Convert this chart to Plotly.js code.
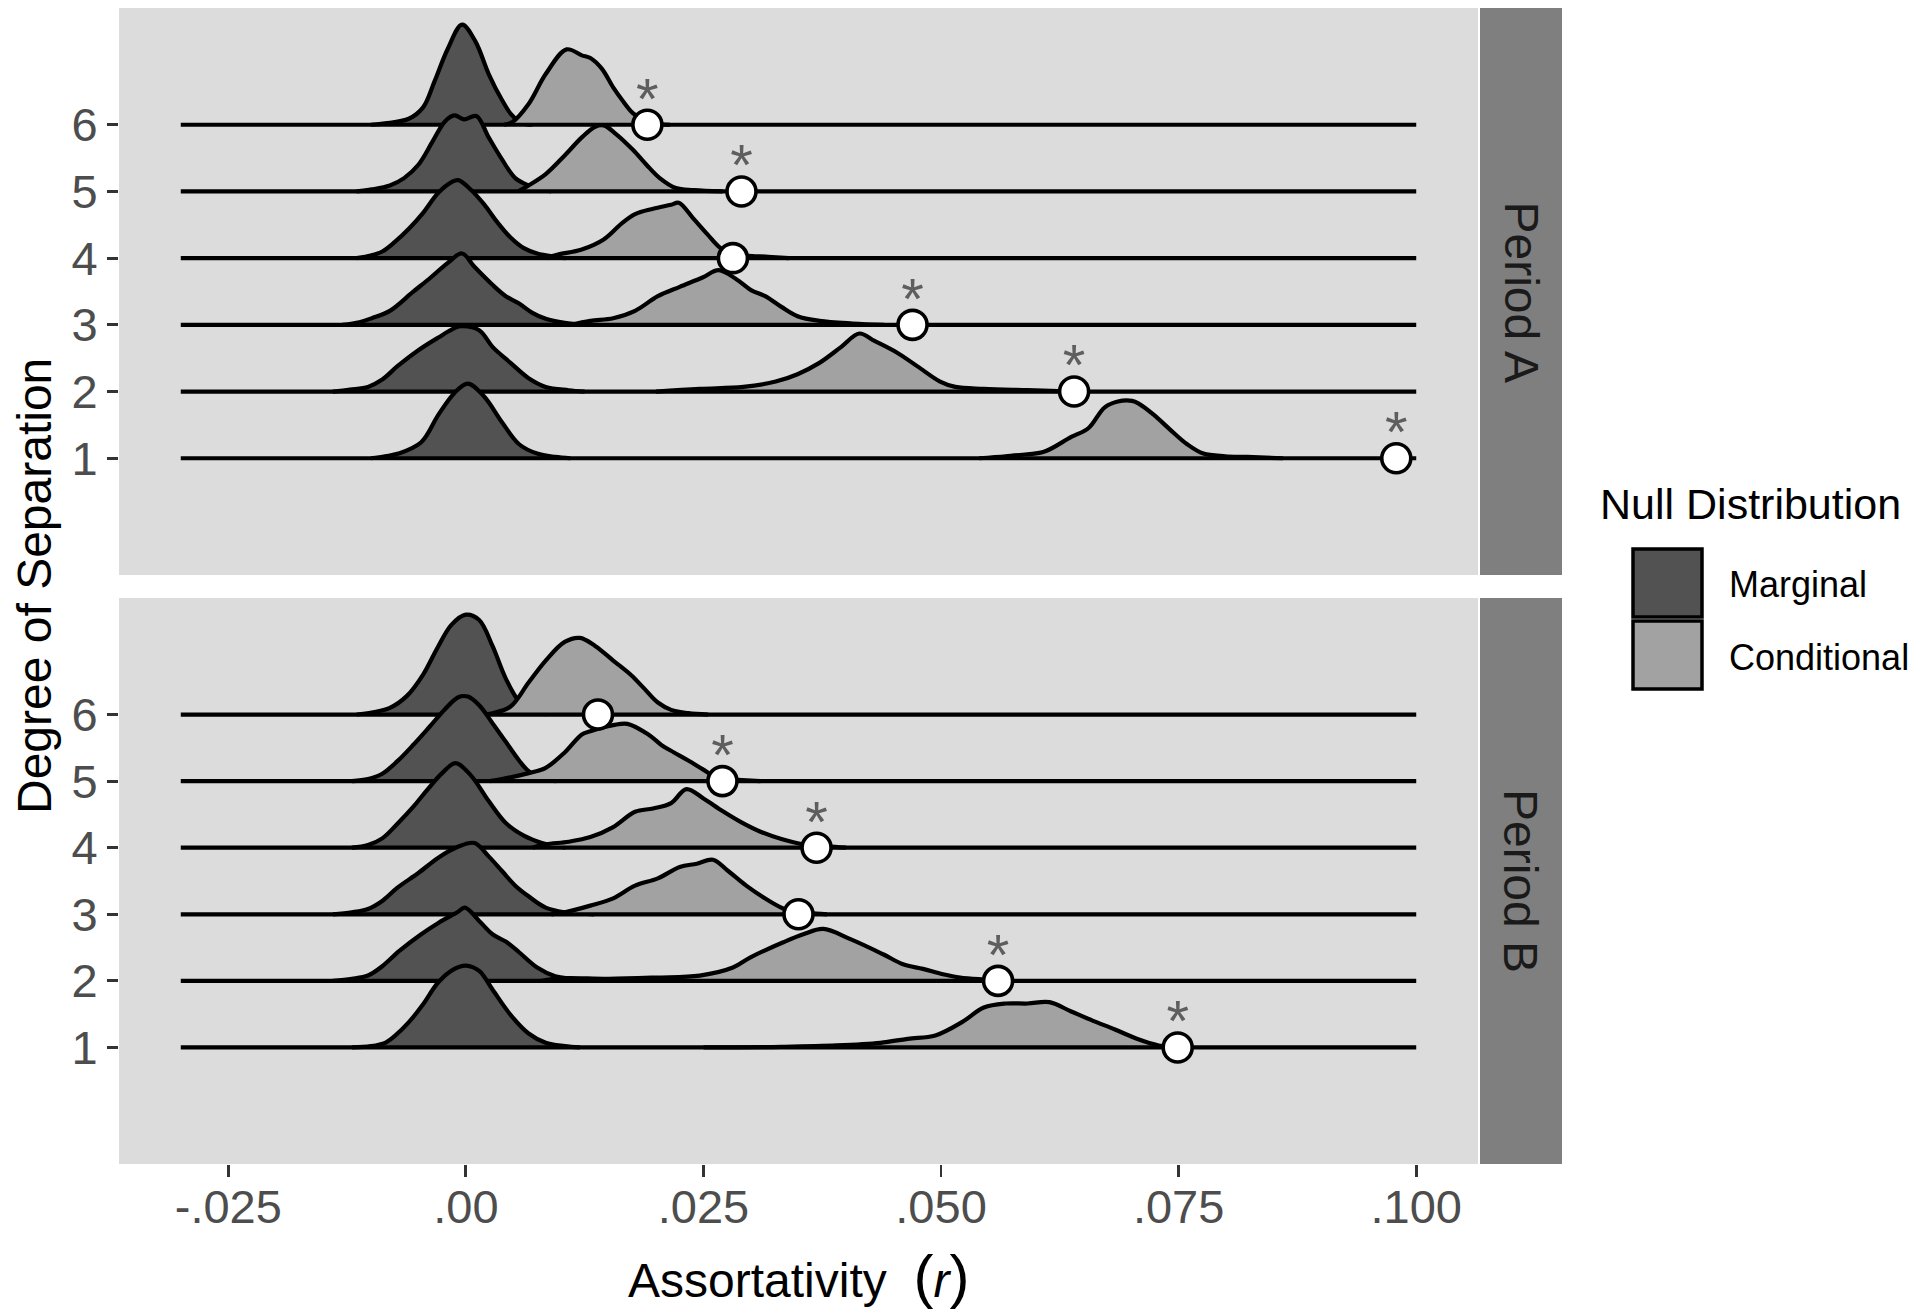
<!DOCTYPE html>
<html>
<head>
<meta charset="utf-8">
<script src="https://cdn.plot.ly/plotly-3.0.1.min.js"></script>
<style>
  html, body { margin: 0; padding: 0; background: #ffffff; }
  #chart { width: 1920px; height: 1315px; }
</style>
</head>
<body>
<div id="chart"></div>
<script>
// ---------------- DATA ----------------
const degrees = [1, 2, 3, 4, 5, 6];
const degreeLabels = ['1', '2', '3', '4', '5', '6'];
const periods = ['Period A', 'Period B'];
const nullTypes = ['Marginal', 'Conditional'];
const xTickVals = [-0.025, 0, 0.025, 0.05, 0.075, 0.1];
const xTickText = ['-.025', '.00', '.025', '.050', '.075', '.100'];
const densityRange = [-0.03, 0.10];

// density curves: [assortativity r, ridge height in row units]
// Period A
const A_marg_1 = [[-0.0100,0],[-0.0085,0.03],[-0.0071,0.07],[-0.0047,0.24],[-0.0029,0.65],[-0.0012,0.98],[0.0002,1.12],[0.0019,0.93],[0.0038,0.54],[0.0056,0.21],[0.0075,0.07],[0.0094,0.02],[0.0110,0]];
const A_cond_1 = [[0.0540,0],[0.0568,0.03],[0.0591,0.06],[0.0609,0.10],[0.0637,0.32],[0.0655,0.45],[0.0672,0.76],[0.0686,0.85],[0.0701,0.86],[0.0708,0.82],[0.0724,0.65],[0.0741,0.43],[0.0759,0.21],[0.0776,0.07],[0.0799,0.03],[0.0822,0.02],[0.0860,0]];
const A_marg_2 = [[-0.0140,0],[-0.0122,0.03],[-0.0103,0.07],[-0.0088,0.18],[-0.0072,0.38],[-0.0050,0.62],[-0.0029,0.81],[-0.0012,0.95],[-0.0005,0.98],[0.0014,0.92],[0.0028,0.67],[0.0047,0.43],[0.0066,0.20],[0.0084,0.07],[0.0108,0.02],[0.0125,0]];
const A_cond_2 = [[0.0200,0],[0.0246,0.04],[0.0292,0.07],[0.0326,0.15],[0.0349,0.26],[0.0372,0.43],[0.0395,0.67],[0.0414,0.87],[0.0430,0.76],[0.0453,0.59],[0.0476,0.37],[0.0499,0.15],[0.0515,0.07],[0.0545,0.04],[0.0591,0.02],[0.0640,0]];
const A_marg_3 = [[-0.0130,0],[-0.0112,0.04],[-0.0099,0.10],[-0.0080,0.21],[-0.0056,0.49],[-0.0037,0.71],[-0.0019,0.93],[-0.0004,1.07],[0.0009,0.87],[0.0028,0.60],[0.0042,0.43],[0.0056,0.32],[0.0070,0.18],[0.0084,0.09],[0.0104,0.03],[0.0125,0]];
const A_cond_3 = [[0.0110,0],[0.0131,0.06],[0.0155,0.10],[0.0178,0.21],[0.0202,0.43],[0.0225,0.57],[0.0249,0.71],[0.0266,0.82],[0.0285,0.68],[0.0300,0.52],[0.0315,0.43],[0.0332,0.27],[0.0349,0.13],[0.0372,0.06],[0.0407,0.02],[0.0440,0]];
const A_marg_4 = [[-0.0115,0],[-0.0100,0.04],[-0.0088,0.10],[-0.0075,0.24],[-0.0060,0.44],[-0.0045,0.68],[-0.0029,0.98],[-0.0015,1.14],[-0.0008,1.17],[0.0005,1.03],[0.0019,0.81],[0.0033,0.54],[0.0047,0.31],[0.0061,0.15],[0.0075,0.07],[0.0094,0.02],[0.0105,0]];
const A_cond_4 = [[0.0085,0],[0.0096,0.05],[0.0122,0.13],[0.0145,0.28],[0.0164,0.52],[0.0178,0.66],[0.0197,0.74],[0.0216,0.80],[0.0224,0.83],[0.0239,0.60],[0.0254,0.36],[0.0268,0.15],[0.0280,0.07],[0.0295,0.04],[0.0318,0.02],[0.0340,0]];
const A_marg_5 = [[-0.0115,0],[-0.0099,0.03],[-0.0080,0.09],[-0.0065,0.20],[-0.0050,0.40],[-0.0035,0.75],[-0.0022,1.05],[-0.0012,1.14],[-0.0002,1.08],[0.0011,1.13],[0.0024,0.81],[0.0038,0.48],[0.0052,0.20],[0.0066,0.09],[0.0077,0.04],[0.0090,0]];
const A_cond_5 = [[0.0055,0],[0.0066,0.09],[0.0084,0.26],[0.0104,0.54],[0.0122,0.81],[0.0136,0.97],[0.0145,0.99],[0.0158,0.86],[0.0176,0.62],[0.0190,0.40],[0.0204,0.20],[0.0221,0.05],[0.0240,0.02],[0.0270,0]];
const A_marg_6 = [[-0.0100,0],[-0.0085,0.02],[-0.0060,0.09],[-0.0045,0.26],[-0.0033,0.65],[-0.0019,1.14],[-0.0004,1.50],[0.0010,1.25],[0.0024,0.76],[0.0038,0.37],[0.0048,0.15],[0.0058,0.03],[0.0070,0]];
const A_cond_6 = [[0.0040,0],[0.0049,0.04],[0.0066,0.31],[0.0084,0.76],[0.0106,1.13],[0.0122,1.04],[0.0131,1.00],[0.0143,0.84],[0.0155,0.56],[0.0165,0.36],[0.0176,0.17],[0.0186,0.08],[0.0196,0.02],[0.0215,0]];
// Period B
const B_marg_1 = [[-0.0120,0],[-0.0100,0.02],[-0.0085,0.07],[-0.0075,0.17],[-0.0060,0.38],[-0.0045,0.65],[-0.0029,0.98],[-0.0012,1.18],[0.0000,1.23],[0.0014,1.15],[0.0028,0.87],[0.0047,0.49],[0.0066,0.21],[0.0084,0.07],[0.0104,0.02],[0.0120,0]];
const B_cond_1 = [[0.0250,0],[0.0332,0.01],[0.0390,0.03],[0.0436,0.07],[0.0465,0.13],[0.0494,0.18],[0.0522,0.38],[0.0545,0.60],[0.0568,0.66],[0.0591,0.66],[0.0614,0.68],[0.0637,0.54],[0.0660,0.40],[0.0683,0.27],[0.0706,0.13],[0.0729,0.03],[0.0750,0]];
const B_marg_2 = [[-0.0140,0],[-0.0120,0.03],[-0.0103,0.08],[-0.0088,0.22],[-0.0070,0.45],[-0.0047,0.70],[-0.0029,0.87],[-0.0009,1.03],[-0.0001,1.10],[0.0014,0.90],[0.0028,0.70],[0.0042,0.59],[0.0056,0.43],[0.0075,0.20],[0.0094,0.07],[0.0113,0.03],[0.0130,0]];
const B_cond_2 = [[0.0080,0],[0.0100,0.04],[0.0150,0.03],[0.0200,0.05],[0.0246,0.08],[0.0281,0.20],[0.0299,0.35],[0.0334,0.58],[0.0355,0.70],[0.0376,0.78],[0.0404,0.63],[0.0439,0.40],[0.0460,0.25],[0.0481,0.18],[0.0502,0.10],[0.0520,0.05],[0.0545,0.02],[0.0570,0]];
const B_marg_3 = [[-0.0140,0],[-0.0120,0.03],[-0.0103,0.08],[-0.0088,0.20],[-0.0072,0.40],[-0.0050,0.62],[-0.0029,0.85],[-0.0009,1.01],[0.0009,1.07],[0.0024,0.87],[0.0038,0.65],[0.0052,0.43],[0.0066,0.27],[0.0084,0.10],[0.0104,0.03],[0.0122,0.01],[0.0135,0]];
const B_cond_3 = [[0.0090,0],[0.0104,0.03],[0.0131,0.13],[0.0155,0.24],[0.0178,0.43],[0.0202,0.54],[0.0225,0.71],[0.0243,0.76],[0.0260,0.82],[0.0276,0.65],[0.0295,0.43],[0.0318,0.21],[0.0337,0.07],[0.0360,0.02],[0.0380,0]];
const B_marg_4 = [[-0.0120,0],[-0.0103,0.04],[-0.0088,0.14],[-0.0072,0.36],[-0.0055,0.62],[-0.0040,0.88],[-0.0025,1.12],[-0.0011,1.27],[0.0005,1.09],[0.0024,0.70],[0.0042,0.37],[0.0061,0.18],[0.0080,0.07],[0.0089,0.04],[0.0105,0]];
const B_cond_4 = [[0.0070,0],[0.0084,0.05],[0.0108,0.09],[0.0131,0.16],[0.0155,0.31],[0.0178,0.54],[0.0197,0.59],[0.0216,0.67],[0.0232,0.88],[0.0250,0.74],[0.0270,0.55],[0.0290,0.38],[0.0310,0.24],[0.0332,0.13],[0.0355,0.05],[0.0380,0.02],[0.0400,0]];
const B_marg_5 = [[-0.0120,0],[-0.0103,0.03],[-0.0088,0.11],[-0.0072,0.30],[-0.0055,0.55],[-0.0038,0.82],[-0.0022,1.08],[-0.0008,1.26],[0.0002,1.27],[0.0014,1.14],[0.0028,0.87],[0.0042,0.59],[0.0056,0.31],[0.0066,0.15],[0.0080,0.04],[0.0095,0]];
const B_cond_5 = [[0.0025,0],[0.0038,0.03],[0.0066,0.12],[0.0084,0.20],[0.0104,0.43],[0.0122,0.70],[0.0131,0.75],[0.0155,0.84],[0.0170,0.86],[0.0192,0.70],[0.0206,0.54],[0.0219,0.43],[0.0234,0.31],[0.0249,0.18],[0.0266,0.04],[0.0286,0.02],[0.0310,0]];
const B_marg_6 = [[-0.0115,0],[-0.0099,0.03],[-0.0080,0.10],[-0.0062,0.28],[-0.0045,0.60],[-0.0030,1.00],[-0.0015,1.35],[0.0000,1.50],[0.0014,1.42],[0.0028,1.03],[0.0042,0.54],[0.0056,0.20],[0.0070,0.07],[0.0085,0]];
const B_cond_6 = [[0.0015,0],[0.0028,0.02],[0.0047,0.12],[0.0066,0.48],[0.0084,0.81],[0.0104,1.09],[0.0120,1.15],[0.0136,1.03],[0.0155,0.81],[0.0174,0.59],[0.0187,0.40],[0.0202,0.18],[0.0216,0.07],[0.0234,0.02],[0.0255,0]];

// observed assortativity per degree 1..6, with significance marks
const observedA = [0.0979, 0.0640, 0.0470, 0.0281, 0.0290, 0.0191];
const starsA    = ['*', '*', '*', '', '*', '*'];
const observedB = [0.0749, 0.0560, 0.0350, 0.0369, 0.0270, 0.0139];
const starsB    = ['*', '*', '', '*', '*', ''];

// ---------------- STYLE ----------------
const W = 1920, H = 1315;
const FONT = 'Liberation Sans, Arial, Helvetica, sans-serif';
const fillColors = {Marginal: '#525252', Conditional: '#a2a2a2'};
const panelBg = '#dcdcdc';
const stripColor = '#7f7f7f';
const px = v => v / W;
const py = v => 1 - v / H;

const plotX = [119, 1478];
const panelY = [[8, 575], [598, 1164]];   // top, bottom (pixels)
const stripX = [1480, 1562];

const panels = [
  {name: periods[0], xa: 'x', ya: 'y', marg: [A_marg_1, A_marg_2, A_marg_3, A_marg_4, A_marg_5, A_marg_6],
   cond: [A_cond_1, A_cond_2, A_cond_3, A_cond_4, A_cond_5, A_cond_6], obs: observedA, stars: starsA},
  {name: periods[1], xa: 'x2', ya: 'y2', marg: [B_marg_1, B_marg_2, B_marg_3, B_marg_4, B_marg_5, B_marg_6],
   cond: [B_cond_1, B_cond_2, B_cond_3, B_cond_4, B_cond_5, B_cond_6], obs: observedB, stars: starsB}
];

const LW = 4.2;
const traces = [];
function ridge(pts, row, color, xa, ya) {
  return {
    type: 'scatter', mode: 'lines',
    x: pts.map(p => p[0]), y: pts.map(p => row + p[1]),
    fill: 'toself', fillcolor: color,
    line: {color: '#000000', width: LW, shape: 'spline', smoothing: 1.0},
    xaxis: xa, yaxis: ya, hoverinfo: 'skip', showlegend: false
  };
}

panels.forEach(p => {
  // draw from the top row down so lower ridges overlap upper ones
  for (let i = degrees.length - 1; i >= 0; i--) {
    const row = degrees[i];
    traces.push(ridge(p.marg[i], row, fillColors.Marginal, p.xa, p.ya));
    traces.push(ridge(p.cond[i], row, fillColors.Conditional, p.xa, p.ya));
    traces.push({
      type: 'scatter', mode: 'lines', x: densityRange, y: [row, row],
      line: {color: '#000000', width: LW}, xaxis: p.xa, yaxis: p.ya,
      hoverinfo: 'skip', showlegend: false
    });
  }
  traces.push({
    type: 'scatter', mode: 'markers', x: p.obs, y: degrees,
    marker: {size: 29, color: '#ffffff', line: {color: '#000000', width: 3.6}},
    xaxis: p.xa, yaxis: p.ya, hoverinfo: 'skip', showlegend: false
  });
  traces.push({
    type: 'scatter', mode: 'text', x: p.obs, y: degrees.map(d => d + 0.31),
    text: p.stars, textposition: 'middle center',
    textfont: {family: FONT, size: 58, color: '#5e5e5e'},
    xaxis: p.xa, yaxis: p.ya, hoverinfo: 'skip', showlegend: false
  });
});

const xRange = [-0.0365, 0.1065];
const yRange = [-0.75, 7.75];
const yAxisCommon = {
  range: yRange, tickmode: 'array', tickvals: degrees, ticktext: degreeLabels,
  ticks: 'outside', ticklen: 11, tickwidth: 2.8, tickcolor: '#333333',
  tickfont: {family: FONT, size: 47, color: '#4d4d4d'},
  showgrid: false, zeroline: false, showline: false, fixedrange: true
};

const shapes = [];
const annotations = [];
panels.forEach((p, k) => {
  shapes.push({type: 'rect', xref: 'paper', yref: 'paper',
    x0: px(stripX[0]), x1: px(stripX[1]), y0: py(panelY[k][1]), y1: py(panelY[k][0]),
    fillcolor: stripColor, line: {width: 0}, layer: 'below'});
  annotations.push({xref: 'paper', yref: 'paper', x: px((stripX[0] + stripX[1]) / 2),
    y: py((panelY[k][0] + panelY[k][1]) / 2), text: p.name, showarrow: false, textangle: 90,
    xanchor: 'center', yanchor: 'middle', font: {family: FONT, size: 48, color: '#1a1a1a'}});
});

// axis titles
annotations.push({xref: 'paper', yref: 'paper', x: px(34), y: py((panelY[0][0] + panelY[1][1]) / 2),
  text: 'Degree of Separation', showarrow: false, textangle: -90, xanchor: 'center', yanchor: 'middle',
  font: {family: FONT, size: 48, color: '#000000'}});
annotations.push({xref: 'paper', yref: 'paper', x: px((plotX[0] + plotX[1]) / 2), y: py(1276),
  text: "Assortativity  <span style='font-size:60px'>(</span><i>r</i><span style='font-size:60px'>)</span>",
  showarrow: false, xanchor: 'center', yanchor: 'middle',
  font: {family: FONT, size: 48, color: '#000000'}});

// legend (drawn manually to match the ggplot key boxes)
annotations.push({xref: 'paper', yref: 'paper', x: px(1598), y: py(504), text: 'Null Distribution',
  showarrow: false, xanchor: 'left', yanchor: 'middle', font: {family: FONT, size: 43, color: '#000000'}});
const keyTop = [549, 621];
nullTypes.forEach((n, i) => {
  shapes.push({type: 'rect', xref: 'paper', yref: 'paper',
    x0: px(1633), x1: px(1702), y0: py(keyTop[i] + 68), y1: py(keyTop[i]),
    fillcolor: fillColors[n], line: {color: '#000000', width: 3.5}});
  annotations.push({xref: 'paper', yref: 'paper', x: px(1727), y: py(keyTop[i] + 36), text: n,
    showarrow: false, xanchor: 'left', yanchor: 'middle', font: {family: FONT, size: 36, color: '#000000'}});
});

const layout = {
  width: W, height: H,
  margin: {l: 0, r: 0, t: 0, b: 0},
  paper_bgcolor: '#ffffff', plot_bgcolor: panelBg,
  showlegend: false,
  font: {family: FONT},
  xaxis: {domain: [px(plotX[0]), px(plotX[1])], range: xRange, anchor: 'y',
    showticklabels: false, ticks: '', showgrid: false, zeroline: false, showline: false, fixedrange: true},
  yaxis: Object.assign({}, yAxisCommon, {domain: [py(panelY[0][1]), py(panelY[0][0])], anchor: 'x'}),
  xaxis2: {domain: [px(plotX[0]), px(plotX[1])], range: xRange, anchor: 'y2',
    tickmode: 'array', tickvals: xTickVals, ticktext: xTickText,
    ticks: 'outside', ticklen: 12, tickwidth: 2.8, tickcolor: '#333333',
    ticklabelstandoff: -10,
    tickfont: {family: FONT, size: 47, color: '#4d4d4d'},
    showgrid: false, zeroline: false, showline: false, fixedrange: true},
  yaxis2: Object.assign({}, yAxisCommon, {domain: [py(panelY[1][1]), py(panelY[1][0])], anchor: 'x2'}),
  shapes: shapes,
  annotations: annotations
};

Plotly.newPlot('chart', traces, layout, {staticPlot: true, displayModeBar: false});
</script>
</body>
</html>
